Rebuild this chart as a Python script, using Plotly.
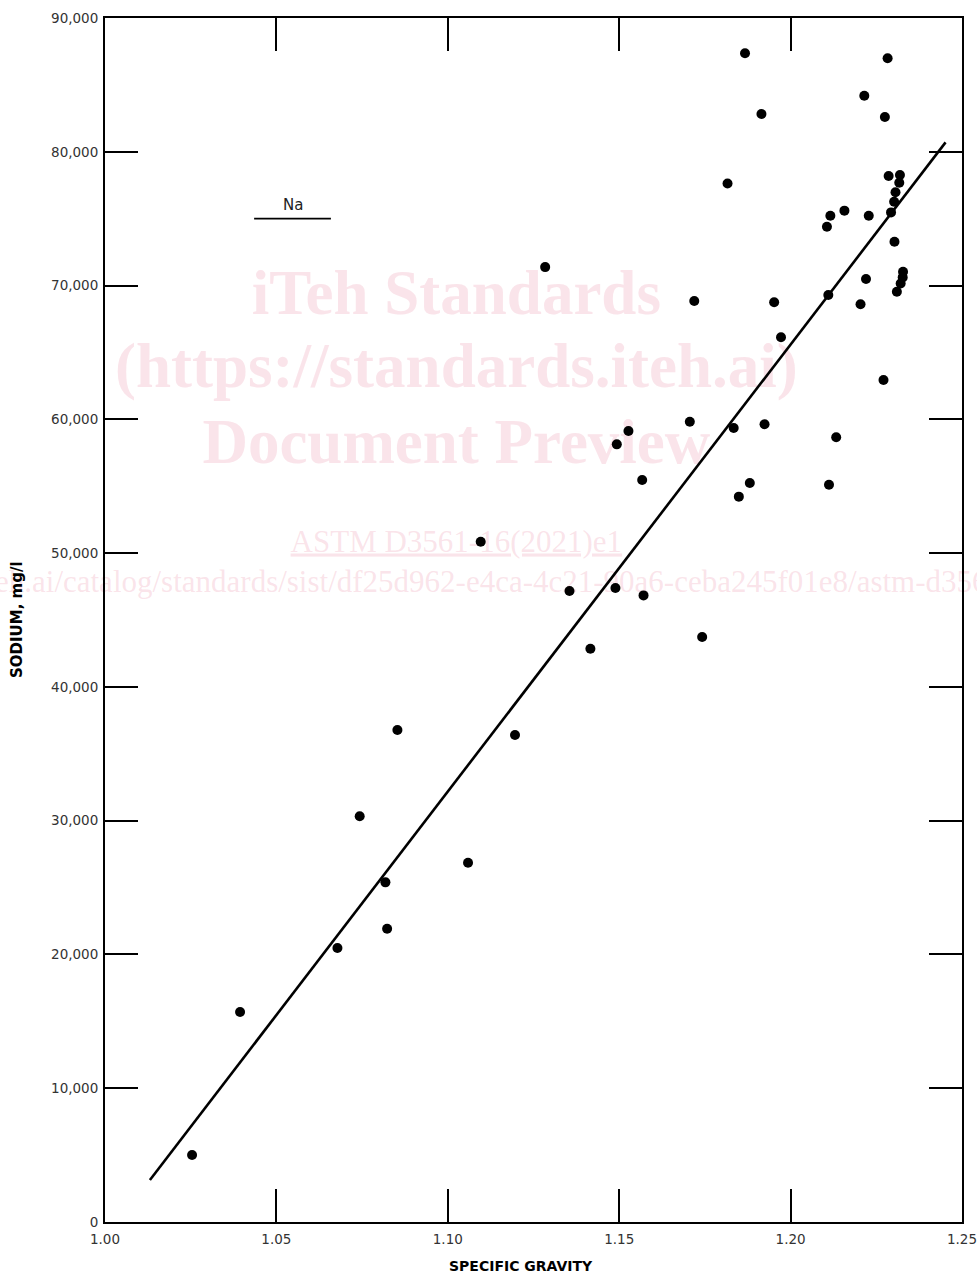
import plotly.graph_objects as go

# Observed samples: specific gravity vs sodium (mg/l)
specific_gravity = [
    1.0254, 1.0394, 1.0678, 1.0743, 1.0818, 1.0823, 1.0853, 1.1059, 1.1096, 1.1196,
    1.1284, 1.1355, 1.1416, 1.1489, 1.1493, 1.1527, 1.1567, 1.1571, 1.1706, 1.1719,
    1.1742, 1.1816, 1.1834, 1.1849, 1.1867, 1.1881, 1.1915, 1.1924, 1.1952, 1.1972,
    1.2106, 1.2110, 1.2112, 1.2116, 1.2133, 1.2157, 1.2204, 1.2215, 1.2220, 1.2228,
    1.2271, 1.2275, 1.2283, 1.2286, 1.2293, 1.2302, 1.2303, 1.2306, 1.2310, 1.2317,
    1.2319, 1.2321, 1.2327, 1.2328,
]
sodium = [
    5010, 15700, 20480, 30330, 25390, 21920, 36780, 26860, 50850, 36400,
    71380, 47170, 42850, 47390, 58130, 59130, 55460, 46840, 59820, 68840,
    43730, 77630, 59350, 54220, 87360, 55240, 82820, 59630, 68750, 66130,
    74400, 69290, 55110, 75220, 58660, 75600, 68600, 84190, 70490, 75220,
    62940, 82600, 86990, 78190, 75470, 76270, 73280, 76970, 69540, 77690,
    78260, 70160, 70610, 71030,
]

# Regression line end points
fit_x = [1.0131, 1.2452]
fit_y = [3140, 80700]

# Legend key
legend_label = "Na"
legend_x = [1.0435, 1.0659]
legend_y = [75000, 75000]

x_ticks = [1.00, 1.05, 1.10, 1.15, 1.20, 1.25]
y_ticks = [0, 10000, 20000, 30000, 40000, 50000, 60000, 70000, 80000, 90000]

WM = "rgba(240,170,190,0.32)"
watermark_big = ["iTeh Standards", "(https://standards.iteh.ai)", "Document Preview"]
watermark_big_y = [69050, 63630, 57950]
watermark_small = ["<u>ASTM D3561-16(2021)e1</u>",
                   "https://standards.iteh.ai/catalog/standards/sist/df25d962-e4ca-4c21-90a6-ceba245f01e8/astm-d3561-16-2021e1"]
watermark_small_y = [50700, 47670]
wm_x = 1.1025

fig = go.Figure()

# watermark (beneath data)
fig.add_trace(go.Scatter(
    x=[wm_x] * 3, y=watermark_big_y, mode="text", text=watermark_big,
    textfont=dict(family="Liberation Serif", size=63, color=WM, weight="bold"),
    cliponaxis=False, hoverinfo="skip", showlegend=False))
fig.add_trace(go.Scatter(
    x=[wm_x] * 2, y=watermark_small_y, mode="text", text=watermark_small,
    textfont=dict(family="Liberation Serif", size=31, color=WM),
    cliponaxis=False, hoverinfo="skip", showlegend=False))

fig.add_trace(go.Scatter(
    x=fit_x, y=fit_y, mode="lines",
    line=dict(color="black", width=2.6), showlegend=False, hoverinfo="skip"))

fig.add_trace(go.Scatter(
    x=specific_gravity, y=sodium, mode="markers",
    marker=dict(color="black", size=10, line=dict(width=0)),
    showlegend=False))

fig.add_trace(go.Scatter(
    x=legend_x, y=legend_y, mode="lines",
    line=dict(color="black", width=1.6), showlegend=False, hoverinfo="skip"))

fig.add_annotation(x=sum(legend_x) / 2, y=legend_y[0], text=legend_label,
                   showarrow=False, yanchor="bottom", yshift=3,
                   font=dict(family="DejaVu Sans", size=15, color="#222"))

axis_common = dict(
    showgrid=False, zeroline=False, showline=True, linecolor="black", linewidth=2,
    ticks="inside", ticklen=33, tickwidth=1.8, tickcolor="black", mirror="ticks",
    tickfont=dict(family="DejaVu Sans", size=13.5, color="#333"),
    ticklabeloverflow="allow", automargin=False,
)

fig.update_xaxes(range=[1.00, 1.25], tickvals=x_ticks,
                 ticktext=[f"{v:.2f}" for v in x_ticks], ticklabelstandoff=4, **axis_common)
fig.update_yaxes(range=[0, 90000], tickvals=y_ticks,
                 ticktext=[f"{v:,}" for v in y_ticks], ticklabelstandoff=2, **axis_common)

fig.add_annotation(xref="paper", yref="paper", x=0, y=0.5, xshift=-99,
                   text="<b>SODIUM, mg/l</b>", textangle=-90, showarrow=False,
                   font=dict(family="DejaVu Sans", size=15, color="black"))
fig.add_annotation(xref="x", yref="paper", x=1.1214, y=0, yshift=-54,
                   text="<b>SPECIFIC GRAVITY</b>", showarrow=False,
                   font=dict(family="DejaVu Sans", size=14, color="black"))

fig.update_layout(
    width=977, height=1273,
    margin=dict(l=105, r=15, t=18, b=51, autoexpand=False),
    plot_bgcolor="white", paper_bgcolor="white",
)

# remove the page's default body margin so the figure sits at the window's corner
fig.write_html("out.html", config={"displayModeBar": False},
               post_script="document.body.style.margin='0';document.body.style.overflow='hidden';")
